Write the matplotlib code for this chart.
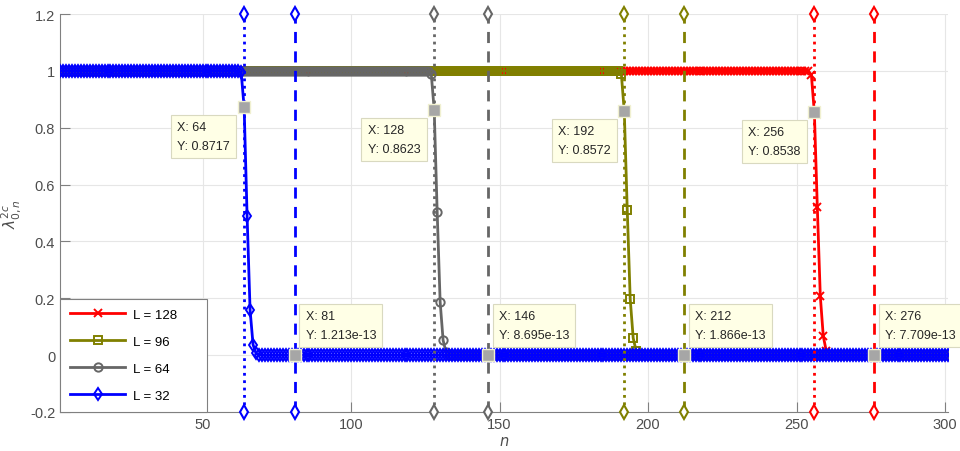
import numpy as np
import matplotlib
matplotlib.use("Agg")
import matplotlib.pyplot as plt

# ======================
# DATI
# ======================
n = np.arange(2, 302)   # n = 2 ... 301

# L = 32
lam_32 = [1.0] * 61 + [0.995, 0.8717, 0.489, 0.159, 0.037, 0.006, 0.001] + [0.0] * 232
# L = 64
lam_64 = [1.0] * 125 + [0.99, 0.8623, 0.503, 0.187, 0.052, 0.010, 0.002] + [0.0] * 168
# L = 96
lam_96 = [1.0] * 189 + [0.99, 0.8572, 0.510, 0.197, 0.060, 0.015, 0.003] + [0.0] * 104
# L = 128
lam_128 = [1.0] * 253 + [0.985, 0.8538, 0.520, 0.208, 0.067, 0.015, 0.003] + [0.0] * 40

series_labels = ["L = 128", "L = 96", "L = 64", "L = 32"]
series_colors = ["#ff0000", "#808000", "#666666", "#0000ff"]
series_markers = ["x", "s", "o", "d"]

# linee verticali: punto 2L (puntinata) e punto di taglio (tratteggiata)
peak_n = [256, 192, 128, 64]
peak_y = [0.8538, 0.8572, 0.8623, 0.8717]
cut_n = [276, 212, 146, 81]
cut_y = [7.709e-13, 1.866e-13, 8.695e-13, 1.213e-13]
cut_y_txt = ["7.709e-13", "1.866e-13", "8.695e-13", "1.213e-13"]

yticks = [-0.2, 0, 0.2, 0.4, 0.6, 0.8, 1, 1.2]
yticklabels = ["-0.2", "0", "0.2", "0.4", "0.6", "0.8", "1", "1.2"]
xticks = [50, 100, 150, 200, 250, 300]

# ======================
# GRAFICO
# ======================
plt.rcParams["font.family"] = ["Liberation Sans", "DejaVu Sans"]

fig = plt.figure(figsize=(9.6, 4.52), dpi=100)
ax = fig.add_axes([0.0625, 0.0863, 0.925, 0.8805])

all_series = [lam_128, lam_96, lam_64, lam_32]
for ys, lab, col, mk in zip(all_series, series_labels, series_colors, series_markers):
    ax.plot(n, ys, color=col, lw=2, marker=mk, ms=6, mew=1.4,
            mfc="none", label=lab, zorder=3)

for i in range(4):
    col = series_colors[i]
    ax.plot([peak_n[i], peak_n[i]], [-0.2, 1.2], color=col, lw=2, ls=":",
            marker="d", ms=7, mfc="white", mew=1.5, clip_on=False, zorder=4)
    ax.plot([cut_n[i], cut_n[i]], [-0.2, 1.2], color=col, lw=2, ls=(0, (4, 3)),
            marker="d", ms=7, mfc="white", mew=1.5, clip_on=False, zorder=4)

# datatip
box = dict(boxstyle="square,pad=0.5", fc="#ffffe6", ec="#d9d9c0", lw=0.8)
for i in range(4):
    ax.plot(peak_n[i], peak_y[i], "s", ms=8, mfc="#a6a6a6", mec="#f0f0d0", zorder=6)
    ax.annotate("X: %d\nY: %.4f" % (peak_n[i], peak_y[i]),
                xy=(peak_n[i], peak_y[i]), xytext=(-10, -10), textcoords="offset points",
                ha="right", va="top", multialignment="left", fontsize=9,
                color="#262626", bbox=box, zorder=7, linespacing=1.75)
    ax.plot(cut_n[i], cut_y[i], "s", ms=8, mfc="#a6a6a6", mec="#f0f0d0", zorder=6)
    ax.annotate("X: %d\nY: %s" % (cut_n[i], cut_y_txt[i]),
                xy=(cut_n[i], cut_y[i]), xytext=(8, 10), textcoords="offset points",
                ha="left", va="bottom", multialignment="left", fontsize=9,
                color="#262626", bbox=box, zorder=7, linespacing=1.75,
                annotation_clip=False)

ax.set_xlim(2, 301)
ax.set_ylim(-0.2, 1.2)
ax.set_xticks(xticks)
ax.set_yticks(yticks)
ax.set_yticklabels(yticklabels)
ax.grid(True, color="#e6e6e6", lw=0.8)
ax.set_axisbelow(True)
for s in ["top", "right"]:
    ax.spines[s].set_visible(False)
for s in ["left", "bottom"]:
    ax.spines[s].set_color("#808080")
ax.tick_params(direction="in", length=7, colors="#4d4d4d", labelsize=10.5)
ax.tick_params(axis="both", color="#808080")

ax.set_xlabel("$n$", fontsize=10.5, color="#4d4d4d", labelpad=2)
ax.set_ylabel(r"$\lambda^{2c}_{0,n}$", fontsize=11, color="#4d4d4d", labelpad=5)

leg = ax.legend(loc="lower left", bbox_to_anchor=(0, 0, 0.1655, 0.2), mode="expand",
                borderaxespad=0, fancybox=False, edgecolor="#808080", fontsize=9.5,
                handlelength=4.2, labelspacing=1.12, borderpad=0.75,
                handletextpad=0.55, framealpha=1)
leg.get_frame().set_linewidth(0.8)
leg.set_zorder(8)

fig.savefig("out.png", dpi=100)
